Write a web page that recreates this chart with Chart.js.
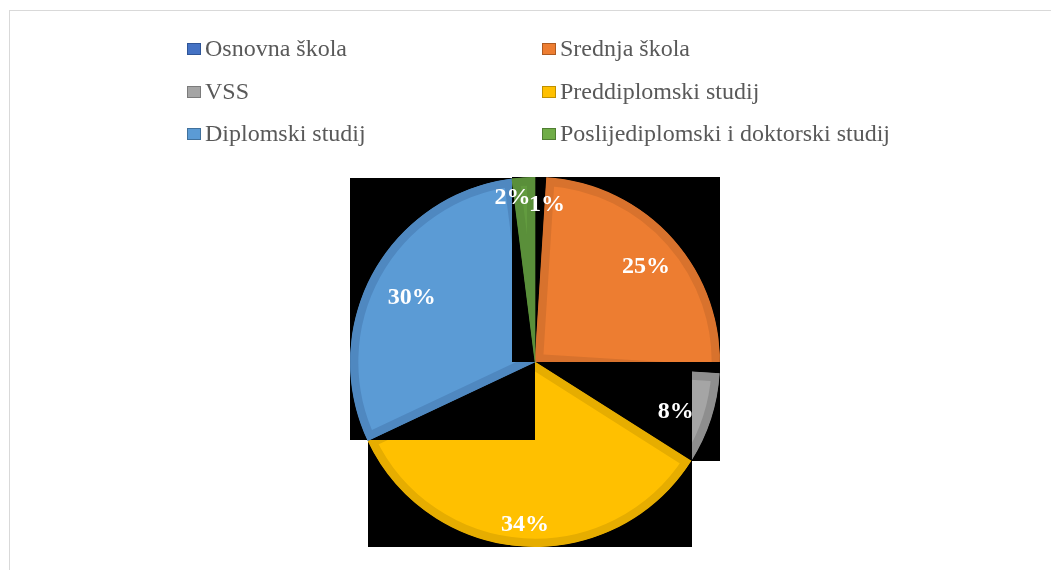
<!DOCTYPE html>
<html>
<head>
<meta charset="utf-8">
<script src="https://cdn.jsdelivr.net/npm/chart.js@4"></script>
<style>
  html, body { margin: 0; padding: 0; background: #fff; width: 1051px; height: 570px; overflow: hidden; }
  #frame { position: absolute; left: 9px; top: 10px; width: 1100px; height: 620px; border: 1px solid #d9d9d9; box-sizing: border-box; }
  #wrap { position: absolute; left: 0; top: 0; width: 1051px; height: 570px; }
  #legend { position: absolute; left: 0; top: 0; width: 1051px; height: 170px; font-family: "Liberation Serif", "Times New Roman", serif; font-size: 24px; color: #595959; }
  .item { position: absolute; white-space: nowrap; line-height: 24px; height: 24px; }
  .box { position: absolute; width: 14px; height: 12px; box-sizing: border-box; border: 1px solid; }
  .txt { position: absolute; }
</style>
</head>
<body>
<div id="frame"></div>
<div id="wrap"><canvas id="c" width="1051" height="570"></canvas></div>
<div id="legend"></div>
<script>
// ---- data ----
const categories = ["Osnovna škola", "Srednja škola", "VSS", "Preddiplomski studij", "Diplomski studij", "Poslijediplomski i doktorski studij"];
const percentages = [1, 25, 8, 34, 30, 2];
const percentLabels = ["1%", "25%", "8%", "34%", "30%", "2%"];

// ---- styles ----
const legendColors = ["#4472C4", "#ED7D31", "#A5A5A5", "#FFC000", "#5B9BD5", "#70AD47"];
const legendBorders = ["#2F5597", "#AE5A21", "#7B7B7B", "#BF9000", "#41719C", "#507E32"];
const sliceColors = ["#4472C4", "#ED7D31", "#A5A5A5", "#FFC000", "#5B9BD5", "#629B3F"];
const sliceBorders = ["#3B64AD", "#D8722D", "#8E8E8E", "#E6AD00", "#4F88C0", "#5A8F3A"];
const labelRadiusFrac = [0.85, 0.8, 0.8, 0.87, 0.76, 0.9];
const labelNudge = [[7, 0], [0, 3], [0, 4], [0, 2], [0, 4], [-12, 2]];

// HTML legend (2 columns x 3 rows)
const legend = document.getElementById('legend');
const colBoxX = [187, 542];
const colTextX = [205, 560];
const rowTop = [36, 78.5, 121];
categories.forEach((name, i) => {
  const col = i % 2, row = Math.floor(i / 2);
  const it = document.createElement('div');
  it.className = 'item';
  it.style.left = '0px';
  it.style.top = rowTop[row] + 'px';
  const b = document.createElement('div');
  b.className = 'box';
  b.style.left = colBoxX[col] + 'px';
  b.style.top = '7px';
  b.style.background = legendColors[i];
  b.style.borderColor = legendBorders[i];
  const t = document.createElement('div');
  t.className = 'txt';
  t.style.left = colTextX[col] + 'px';
  t.style.top = '0px';
  t.textContent = name;
  it.appendChild(b); it.appendChild(t);
  legend.appendChild(it);
});

// each slice is drawn over a black box of its own bounds, in order
const bboxPlugin = {
  id: 'bbox',
  beforeDatasetDraw(chart, args) {
    const ctx = chart.ctx;
    const meta = args.meta;
    ctx.save();
    meta.data.forEach(arc => {
      const {x, y, startAngle, endAngle, outerRadius} = arc.getProps(['x','y','startAngle','endAngle','outerRadius'], true);
      const pts = [[x, y], [x + outerRadius*Math.cos(startAngle), y + outerRadius*Math.sin(startAngle)],
                   [x + outerRadius*Math.cos(endAngle), y + outerRadius*Math.sin(endAngle)]];
      const half = Math.PI / 2;
      for (let k = Math.ceil(startAngle / half); k * half <= endAngle; k++) {
        const a = k * half;
        pts.push([x + outerRadius*Math.cos(a), y + outerRadius*Math.sin(a)]);
      }
      const xs = pts.map(p => p[0]), ys = pts.map(p => p[1]);
      const x0 = Math.min(...xs), x1 = Math.max(...xs), y0 = Math.min(...ys), y1 = Math.max(...ys);
      ctx.fillStyle = '#000';
      ctx.fillRect(Math.round(x0), Math.round(y0), Math.round(x1 - x0), Math.round(y1 - y0));
      arc.draw(ctx, chart.chartArea);
    });
    ctx.restore();
    return false;
  }
};

// percentage labels
const labelPlugin = {
  id: 'pctLabels',
  afterDatasetsDraw(chart) {
    const ctx = chart.ctx;
    const meta = chart.getDatasetMeta(0);
    ctx.save();
    ctx.font = 'bold 24px "Liberation Serif", "Times New Roman", serif';
    ctx.fillStyle = '#ffffff';
    ctx.textAlign = 'center';
    ctx.textBaseline = 'middle';
    meta.data.forEach((arc, i) => {
      const {x, y, startAngle, endAngle, outerRadius} = arc.getProps(['x','y','startAngle','endAngle','outerRadius'], true);
      const mid = (startAngle + endAngle) / 2;
      const r = outerRadius * labelRadiusFrac[i];
      ctx.fillText(percentLabels[i], x + r*Math.cos(mid) + labelNudge[i][0], y + r*Math.sin(mid) + labelNudge[i][1]);
    });
    ctx.restore();
  }
};

new Chart(document.getElementById('c'), {
  type: 'pie',
  data: {
    labels: categories,
    datasets: [{
      data: percentages,
      backgroundColor: sliceColors,
      borderColor: sliceBorders,
      borderWidth: 8,
      borderAlign: 'inner',
      hoverBorderWidth: 0,
      hoverOffset: 0
    }]
  },
  options: {
    responsive: false,
    animation: false,
    events: [],
    layout: { padding: { left: 350, right: 331, top: 177, bottom: 23 } },
    plugins: { legend: { display: false }, tooltip: { enabled: false } }
  },
  plugins: [bboxPlugin, labelPlugin]
});
</script>
</body>
</html>
